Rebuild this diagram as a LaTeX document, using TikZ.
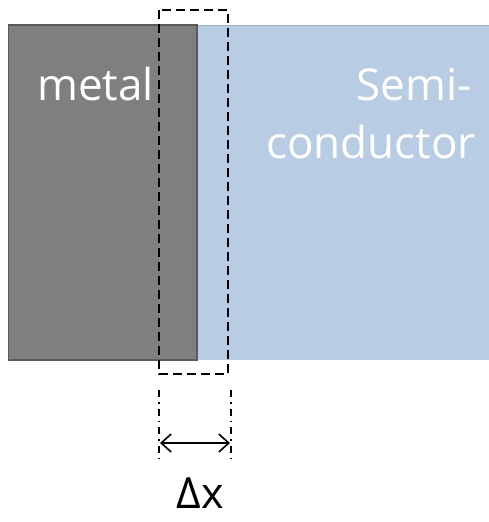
\documentclass[tikz,border=0pt]{standalone}
\usepackage{fontspec}
\setmainfont{Open Sans}
\usetikzlibrary{arrows.meta}
\definecolor{metalgray}{RGB}{127,127,127}
\definecolor{metaledge}{RGB}{90,90,90}
\definecolor{semiblue}{RGB}{184,204,228}
\begin{document}
\begin{tikzpicture}[x=1pt,y=-1pt,
  lbl/.style={text=white,font=\fontsize{44}{50}\selectfont,inner sep=0pt},
  guide/.style={black,line width=1.6pt,dash pattern=on 7pt off 5pt on 1.5pt off 5pt},
  boxdash/.style={black,line width=2pt,dash pattern=on 9pt off 5pt}]
\useasboundingbox (0,0) rectangle (489,522);
\fill[semiblue] (197,25) rectangle (489,360);
\draw[semiblue!85!black,line width=0.6pt] (197,25) -- (489,25);
\draw[metaledge,fill=metalgray,line width=1.2pt] (8.5,25) rectangle (197,360);
\node[lbl,anchor=base west] (metal) at (37,100) {metal};
\node[lbl,anchor=base east] (semi) at (472,100) {Semi-};
\node[lbl,anchor=base east] (cond) at (476,158) {conductor};
\draw[boxdash] (159,10) rectangle (228,374);
\coordinate (la) at (159,390);
\coordinate (lb) at (159,462);
\coordinate (ra) at (231,390);
\coordinate (rb) at (231,462);
\draw[guide] (la) -- (lb);
\draw[guide] (ra) -- (rb);
\coordinate (al) at (160,443);
\coordinate (ar) at (230,443);
\draw[line width=1.6pt,{Straight Barb[length=10pt,width=18pt]}-{Straight Barb[length=10pt,width=18pt]}] (al) -- (ar);
\node[font=\fontsize{43}{48}\selectfont,inner sep=0pt,text depth=0pt,anchor=base] (dx) at (200,508) {Δx};
\end{tikzpicture}
\end{document}
